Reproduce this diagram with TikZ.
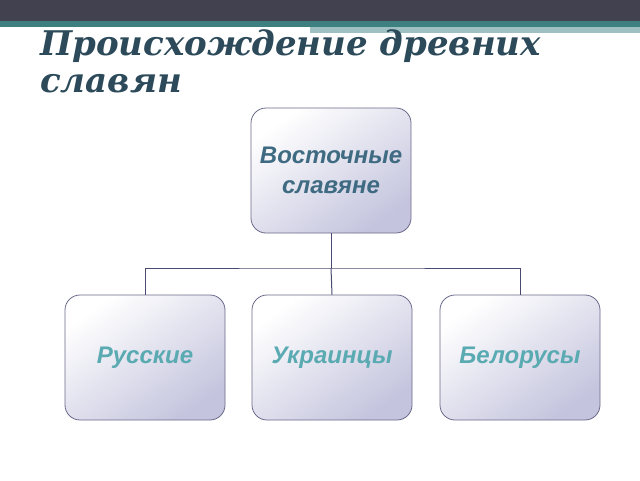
\documentclass[tikz,border=0pt]{standalone}
\usepackage{fontspec}
\setmainfont{DejaVu Serif}
\newfontfamily\boxfont{Liberation Sans}
\begin{document}
\begin{tikzpicture}[x=1pt,y=-1pt,
  box/.style={draw=boxline,line width=0.8pt,rounded corners=15pt,minimum width=160pt,minimum height=125pt,
    top color=white,bottom color=boxlav,shading angle=35,inner sep=2pt,align=center,
    font=\boxfont\bfseries\itshape\fontsize{24}{30}\selectfont},
  conn/.style={draw=connc,line width=1pt}]
\definecolor{boxline}{HTML}{6A6A8A}
\definecolor{boxlav}{HTML}{C4C4DE}
\definecolor{connc}{HTML}{4A4A70}
\definecolor{bardark}{HTML}{414150}
\definecolor{barteal}{HTML}{3E7F80}
\definecolor{barlight}{HTML}{9EC0C2}
\definecolor{titlec}{HTML}{2C4A5A}
\definecolor{topc}{HTML}{3E6A82}
\definecolor{botc}{HTML}{5AAAB2}
\useasboundingbox (0,0) rectangle (640,480);
\fill[white] (0,0) rectangle (640,480);
\fill[bardark] (0,0) rectangle (640,21);
\fill[barteal] (0,21) rectangle (640,27);
\fill[barlight] (310,27) rectangle (640,33);
\node[anchor=base west,text=titlec,font=\bfseries\itshape\fontsize{34}{40}\selectfont,inner sep=0] (t1) at (40,55) {Происхождение древних};
\node[anchor=base west,text=titlec,font=\bfseries\itshape\fontsize{34}{40}\selectfont,inner sep=0] (t2) at (40,92) {славян};
\node[box,text=topc] (top) at (331,170.5) {Восточные\\славяне};
\node[box,text=botc] (r) at (145,357.5) {Русские};
\node[box,text=botc] (u) at (332,357.5) {Украинцы};
\node[box,text=botc] (b) at (520,357.5) {Белорусы};
\coordinate (j) at (331,268);
\draw[conn] (top.south) -- (j);
\draw[conn] (r.north) |- (j) -| (b.north);
\draw[conn] (j) -- (u.north);
\end{tikzpicture}
\end{document}
